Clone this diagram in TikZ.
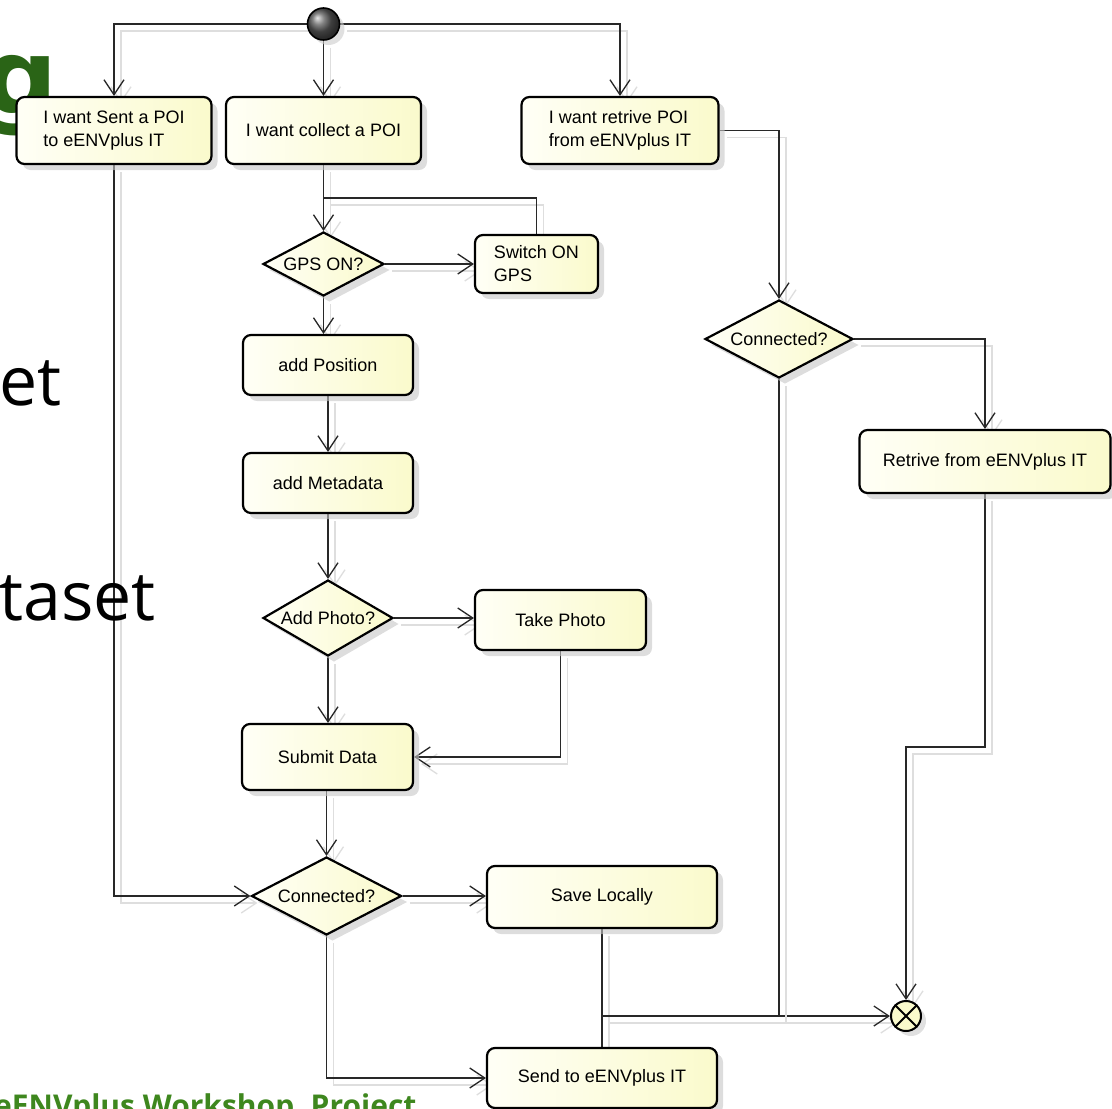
\documentclass[tikz,border=0pt]{standalone}
\usepackage{fontspec}
\setmainfont{Liberation Sans}
\newfontfamily\slidefont{Open Sans}
\newfontfamily\gfont{DejaVu Sans}
\usetikzlibrary{shapes.geometric,arrows.meta,shadows,calc}
\definecolor{boxfillL}{RGB}{255,255,246}
\definecolor{boxfillR}{RGB}{250,250,204}
\definecolor{linec}{RGB}{40,40,40}
\definecolor{shadowline}{RGB}{222,222,222}
\definecolor{slidegreen}{RGB}{42,100,22}
\definecolor{footgreen}{RGB}{62,135,30}
\pgfdeclarelayer{bg}
\pgfsetlayers{bg,main}
\begin{document}
\begin{tikzpicture}[x=1pt,y=-1pt,
  actbox/.style={rectangle, rounded corners=8pt, draw=black, line width=2.2pt,
    left color=boxfillL, right color=boxfillR, font=\fontsize{18}{23}\selectfont,
    align=left, inner sep=0pt,
    drop shadow={shadow xshift=6pt, shadow yshift=-6pt, fill=black!22, opacity=0.6}},
  decision/.style={diamond, aspect=2, draw=black, line width=2.2pt,
    left color=boxfillL, right color=boxfillR, font=\fontsize{18}{23}\selectfont,
    inner sep=0pt,
    drop shadow={shadow xshift=6pt, shadow yshift=-6pt, fill=black!22, opacity=0.6}},
  flow/.style={draw=linec, line width=1.3pt,
    preaction={draw=shadowline, line width=1.3pt, transform canvas={shift={(7pt,-7pt)}}}},
  arr/.style={flow, -{Straight Barb[length=15pt,width=20pt,line width=1.3pt]}},
  slidetxt/.style={anchor=base west, inner sep=0pt, font=\slidefont\fontsize{68}{68}\selectfont}
]
\useasboundingbox (0,0) rectangle (1112,1109);

% background slide text
\node[slidetxt] (tet) at (-1,405) {et};
\node[slidetxt] (ttaset) at (-1,620) {taset};
\node[anchor=base east, inner sep=0pt, text=slidegreen, font=\gfont\bfseries\fontsize{104}{104}\selectfont] (tg) at (58,113) {g};
\node[anchor=base west, inner sep=0pt, text=footgreen, font=\slidefont\bfseries\fontsize{30}{30}\selectfont] (tfoot) at (-6,1116) {eENVplus Workshop, Project};

% start and end
\node[circle, minimum size=32pt, inner sep=0pt, draw=black, line width=1.6pt, shading=ball, ball color=gray!70!black,
  drop shadow={shadow xshift=5pt, shadow yshift=-5pt, fill=black!20, opacity=0.6}] (st) at (323.5,24) {};
\node[circle, minimum size=30pt, inner sep=0pt, draw=black, line width=2pt, fill=boxfillR,
  drop shadow={shadow xshift=5pt, shadow yshift=-5pt, fill=black!20, opacity=0.6}] (en) at (906,1016) {};
\draw[line width=2pt] (en.45) -- (en.225) (en.135) -- (en.315);

% activities
\node[actbox, minimum width=195pt, minimum height=67pt] (b1) at (114,130.5) {I want Sent a POI\\to eENVplus IT};
\node[actbox, minimum width=195pt, minimum height=67pt] (b2) at (323.5,130.5) {I want collect a POI};
\node[actbox, minimum width=197pt, minimum height=67pt] (b3) at (620,130.5) {I want retrive POI\\from eENVplus IT};
\node[actbox, minimum width=123pt, minimum height=58pt] (sw) at (536.5,264) {Switch ON\\GPS};
\node[actbox, minimum width=170pt, minimum height=60pt] (pos) at (328,365) {add Position};
\node[actbox, minimum width=170pt, minimum height=60pt] (meta) at (328,483) {add Metadata};
\node[actbox, minimum width=171pt, minimum height=60pt] (photo) at (560.5,620) {Take Photo};
\node[actbox, minimum width=171pt, minimum height=66pt] (sub) at (327.5,757) {Submit Data};
\node[actbox, minimum width=230pt, minimum height=62pt] (save) at (602,897) {Save Locally};
\node[actbox, minimum width=230pt, minimum height=60pt] (send) at (602,1078) {Send to eENVplus IT};
\node[actbox, minimum width=251pt, minimum height=63pt] (ret) at (985,461.5) {Retrive from eENVplus IT};

% decisions
\node[decision, minimum width=121pt, minimum height=64pt] (gps) at (323.5,264) {GPS ON?};
\node[decision, minimum width=130pt, minimum height=76pt] (addp) at (328,618) {Add Photo?};
\node[decision, minimum width=150pt, minimum height=78pt] (c1) at (326.5,896) {Connected?};
\node[decision, minimum width=148pt, minimum height=78pt] (c2) at (779,339) {Connected?};

% junctions
\coordinate (j1) at (323.5,198);
\coordinate (j2) at (save.south |- en.west);
\coordinate (j3) at (985,747);
\coordinate (j4) at (c2.south |- en.west);

\begin{pgfonlayer}{bg}
\draw[arr] (st.west) -| (b1.north);
\draw[arr] (st.south) -- (b2.north);
\draw[arr] (st.east) -| (b3.north);
\draw[arr] (b1.south) |- (c1.west);
\draw[arr] (b2.south) -- (gps.north);
\draw[arr] (gps.east) -- (sw.west);
\draw[flow] (sw.north) |- (j1);
\draw[arr] (gps.south) -- (gps.south |- pos.north);
\draw[arr] (pos.south) -- (meta.north);
\draw[arr] (meta.south) -- (addp.north);
\draw[arr] (addp.east) -- (addp.east -| photo.west);
\draw[arr] (photo.south) |- (sub.east);
\draw[arr] (addp.south) -- (addp.south |- sub.north);
\draw[arr] (sub.south -| c1.north) -- (c1.north);
\draw[arr] (c1.east) -- (c1.east -| save.west);
\draw[arr] (c1.south) |- (send.west);
\draw[flow] (save.south) -- (send.north);
\draw[arr] (j2) -- (en.west);
\draw[flow] (c2.south) -- (j4);
\draw[arr] (b3.east) -| (c2.north);
\draw[arr] (c2.east) -| (ret.north);
\draw[arr] (ret.south) -- (j3) -| (en.north);
\end{pgfonlayer}
\end{tikzpicture}
\end{document}
